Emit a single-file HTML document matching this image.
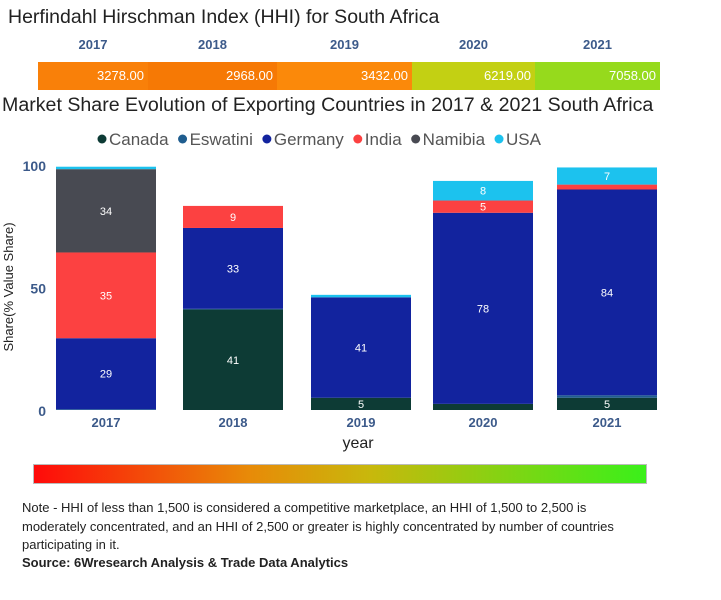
<!DOCTYPE html>
<html><head><meta charset="utf-8"><style>
body{margin:0;width:721px;height:600px;background:#fff;font-family:"Liberation Sans",sans-serif;position:relative;overflow:hidden}
.a{position:absolute}
</style></head><body>
<div class="a" style="left:8px;top:6px;font-size:19.5px;color:#222">Herfindahl Hirschman Index (HHI) for South Africa</div>
<div id="hhi"></div>
<div class="a" style="left:2px;top:94px;font-size:19.6px;color:#222">Market Share Evolution of Exporting Countries in 2017 &amp; 2021 South Africa</div>
<svg id="chart" class="a" style="left:0;top:0" width="721" height="460"></svg>
<div class="a" style="left:33px;top:464px;width:614px;height:20px;background:linear-gradient(to right,#ff0a0a,#e88a08 35%,#c8b80c 55%,#3af01a);border:1px solid #bbb;box-sizing:border-box"></div>
<div class="a" style="left:22px;top:499px;width:600px;font-size:13px;line-height:18.5px;color:#222">Note - HHI of less than 1,500 is considered a competitive marketplace, an HHI of 1,500 to 2,500 is moderately concentrated, and an HHI of 2,500 or greater is highly concentrated by number of countries participating in it.</div>
<div class="a" style="left:22px;top:555px;font-size:13px;font-weight:bold;color:#222">Source: 6Wresearch Analysis &amp; Trade Data Analytics</div>
<script>
const hhiYears=["2017","2018","2019","2020","2021"];
const hhiValues=[3278,2968,3432,6219,7058];
const hhiColors=["#f98009","#f67905","#fb890a","#c3d013","#96da1c"];
const hhiEdges=[38,148,277,412,535,660];
const hhi=document.getElementById('hhi');
hhiYears.forEach((y,i)=>{
 const l=document.createElement('div');l.className='a';
 
 
 l.style.cssText=`left:${hhiEdges[i]}px;width:${hhiEdges[i+1]-hhiEdges[i]}px;top:37px;text-align:center;font-size:13px;font-weight:bold;color:#3c5a8a`;
 l.textContent=y;hhi.appendChild(l);
 const s=document.createElement('div');s.className='a';
 
 
 s.style.cssText=`left:${hhiEdges[i]}px;width:${hhiEdges[i+1]-hhiEdges[i]}px;top:62px;height:28px;background:${hhiColors[i]};color:#fff;font-size:13px;line-height:28px;text-align:right;box-sizing:border-box;padding-right:4px`;
 s.textContent=hhiValues[i].toFixed(2);hhi.appendChild(s);
});
const categories=["2017","2018","2019","2020","2021"];
const seriesNames=["Canada","Eswatini","Germany","India","Namibia","USA"];
const seriesColors=["#0d3b35","#1f5d8f","#12239e","#fc4141","#484a52","#1cc2ee"];
const canada=[0,41,5,2.5,5];
const eswatini=[0.3,0.3,0,0,1];
const germany=[29,33,41,78,84];
const india=[35,9,0,5,2];
const namibia=[34,0,0,0,0];
const usa=[1,0,1,8,7];
const yTicks=[0,50,100];
const series=[canada,eswatini,germany,india,namibia,usa];
const svg=document.getElementById('chart');const NS='http://www.w3.org/2000/svg';
const y0=410,pxPer=2.45;const yScale=v=>y0-v*pxPer;
const barLeft=[56,183,311,433,557],barW=100;
function el(t,a,txt){const e=document.createElementNS(NS,t);for(const k in a)e.setAttribute(k,a[k]);if(txt!=null)e.textContent=txt;svg.appendChild(e);return e;}
let lx=98;
seriesNames.forEach((n,i)=>{
 const c=el('circle',{cx:lx+4,cy:139,r:4.5,fill:seriesColors[i]});
 
 
 const t=el('text',{x:lx+11,y:145,'font-size':17,fill:'#555'},n);
 
 
 lx+=11+t.getComputedTextLength()+10;
});
yTicks.forEach(v=>{const t=el('text',{x:46,y:yScale(v)+6,'text-anchor':'end','font-size':14,'font-weight':'bold',fill:'#3c5a8a'},v);
 
 });
const yt=el('text',{x:0,y:0,transform:'translate(13,287) rotate(-90)','text-anchor':'middle','font-size':13,fill:'#222'},'Share(% Value Share)');


categories.forEach((c,i)=>{
 let acc=0;
 series.forEach((s,j)=>{
  const v=s[i];if(v<=0)return;
  const top=yScale(acc+v),bot=yScale(acc);
  const r=el('rect',{x:barLeft[i],y:top,width:barW,height:bot-top,fill:seriesColors[j]});
  
  
  if(v>=5){const t=el('text',{x:barLeft[i]+barW/2,y:(top+bot)/2+4,'text-anchor':'middle','font-size':11,fill:'#fff'},Math.round(v));
   
   }
  acc+=v;
 });
 const xl=el('text',{x:barLeft[i]+barW/2,y:427,'text-anchor':'middle','font-size':13,'font-weight':'bold',fill:'#3c5a8a'},c);
 
 
});
const xt=el('text',{x:358,y:448,'text-anchor':'middle','font-size':16,fill:'#222'},'year');


</script>
</body></html>
